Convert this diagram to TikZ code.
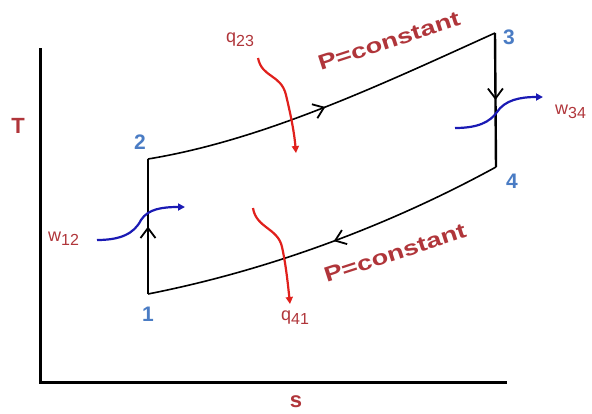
\documentclass[tikz,border=0pt]{standalone}
\usepackage{fontspec}
\usepackage{graphicx}
\setmainfont{Liberation Sans}
\usetikzlibrary{arrows.meta,decorations.markings}
\definecolor{lblred}{HTML}{B0353A}
\definecolor{numblue}{HTML}{4A7CC4}
\definecolor{arrred}{HTML}{E0201C}
\definecolor{arrblue}{HTML}{1A1AB4}
\tikzset{
  axisline/.style={line width=3pt, line cap=rect},
  procline/.style={line width=1.6pt},
  vertline/.style={line width=2.4pt},
  midarrow/.style={postaction={decorate}, decoration={markings,
     mark=at position #1 with {\arrow[line width=1.8pt]{Straight Barb[length=10pt,width=15pt]}}}},
  heatarrow/.style={draw=arrred, line width=2.2pt, -{Triangle[length=7pt,width=7pt]}},
  workarrow/.style={draw=arrblue, line width=2.2pt, -{Triangle[length=7pt,width=7pt]}},
  numlabel/.style={text=numblue, font=\fontsize{21}{21}\selectfont\bfseries, inner sep=0pt},
  qlabel/.style={text=lblred, font=\fontsize{18}{18}\selectfont, inner sep=0pt},
  plabel/.style={text=lblred, font=\fontsize{21}{21}\selectfont\bfseries, inner sep=0pt},
  axlabel/.style={text=lblred, font=\fontsize{22}{22}\selectfont\bfseries, inner sep=0pt}
}
\newcommand{\subsz}[1]{\raisebox{-4pt}{\fontsize{16}{16}\selectfont #1}}
\begin{document}
\begin{tikzpicture}[x=1pt,y=-1pt]
\useasboundingbox (0,0) rectangle (592,413);
% axes
\coordinate (ytop) at (40,49);
\coordinate (orig) at (40,382);
\coordinate (xend) at (505,382);
\draw[axisline] (ytop) -- (orig) -- (xend);
\node[axlabel] (tl) at (18,126) {T};
\node[axlabel] (sl) at (296,402) {s};
% state points
\coordinate (p1) at (148,294);
\coordinate (p2) at (148,159);
\coordinate (p3) at (495,33);
\coordinate (p4) at (496,167);
% processes
\draw[vertline, midarrow=0.5] (p1) -- (p2);
\draw[procline, midarrow=0.5] (p2) .. controls (264,140) and (380,85) .. (p3);
\draw[vertline, midarrow=0.5] (p3) -- (p4);
\draw[procline, midarrow=0.48] (p4) .. controls (390,225) and (270,270) .. (p1);
% state labels
\node[numlabel] (n1) at (148,314) {1};
\node[numlabel] (n2) at (140,142) {2};
\node[numlabel] (n3) at (509,37) {3};
\node[numlabel] (n4) at (512,181) {4};
% P=constant labels
\node[plabel, rotate=18] (pc1) at (389,41) {\scalebox{1.3}[1]{P=constant}};
\node[plabel, rotate=18] (pc2) at (395,253) {\scalebox{1.3}[1]{P=constant}};
% heat arrows
\coordinate (q23s) at (258,58);
\coordinate (q23m) at (286,95);
\coordinate (q23e) at (296,153);
\draw[heatarrow] (q23s) .. controls (262,78) and (281,74) .. (q23m) .. controls (290,112) and (294,130) .. (q23e);
\coordinate (q41s) at (253,208);
\coordinate (q41m) at (282,247);
\coordinate (q41e) at (290,304);
\draw[heatarrow] (q41s) .. controls (256,228) and (278,228) .. (q41m) .. controls (286,265) and (288,285) .. (q41e);
\node[qlabel, anchor=base west] (q23) at (226,42) {q\subsz{23}};
\node[qlabel, anchor=base west] (q41) at (281,320) {q\subsz{41}};
% work arrows
\coordinate (w12s) at (97,240);
\coordinate (w12m) at (141,220);
\coordinate (w12e) at (185,207);
\draw[workarrow] (w12s) .. controls (120,240) and (134,234) .. (w12m) .. controls (148,209) and (162,207) .. (w12e);
\coordinate (w34s) at (455,128);
\coordinate (w34m) at (497,112);
\coordinate (w34e) at (543,97);
\draw[workarrow] (w34s) .. controls (478,128) and (490,122) .. (w34m) .. controls (505,100) and (520,97) .. (w34e);
\node[qlabel, anchor=base west] (w12) at (48,241) {w\subsz{12}};
\node[qlabel, anchor=base west] (w34) at (555,114) {w\subsz{34}};
\end{tikzpicture}
\end{document}
